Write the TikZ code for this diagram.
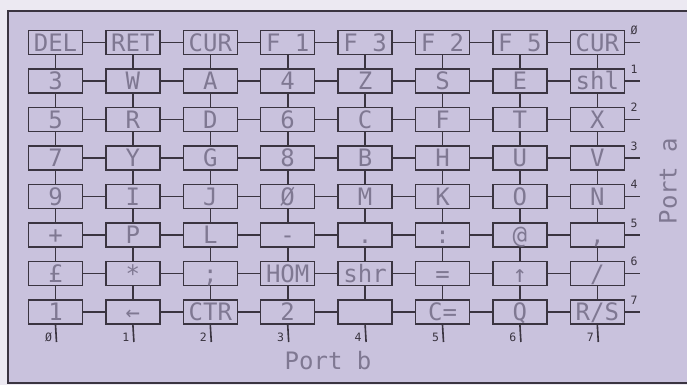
\documentclass[tikz,border=0pt]{standalone}
\usepackage{fontspec}
\newfontfamily\plotfont{DejaVu Sans Mono}
\definecolor{bgout}{HTML}{ECE9F2}
\definecolor{bgin}{HTML}{C9C2DD}
\definecolor{ink}{HTML}{3A3440}
\definecolor{txt}{HTML}{7F7892}
\begin{document}
\begin{tikzpicture}[x=1pt,y=-1pt,
  keybox/.style={draw=ink, line width=1.5pt, fill=bgin, minimum width=54pt, minimum height=24pt,
    inner sep=0pt, text height=17.5pt, text depth=0pt, text=txt,
    font=\plotfont\fontsize{24}{24}\selectfont},
  wire/.style={draw=ink, line width=1.6pt},
  num/.style={text=ink, font=\plotfont\fontsize{11.5}{11.5}\selectfont, inner sep=0pt},
  porttext/.style={text=txt, font=\plotfont\fontsize{24}{24}\selectfont, inner sep=0pt}]
\useasboundingbox (0,0) rectangle (687,385);
\fill[bgout] (0,0) rectangle (687,385);
\fill[bgin] (8,11) rectangle (700,383);
\draw[ink, line width=1.2pt] (700,11) -- (8,11) -- (8,383) -- (700,383);
% keys
\foreach \r [count=\j from 0] in {
  {DEL,RET,CUR,F 1,F 3,F 2,F 5,CUR},
  {3,W,A,4,Z,S,E,shl},
  {5,R,D,6,C,F,T,X},
  {7,Y,G,8,B,H,U,V},
  {9,I,J,Ø,M,K,O,N},
  {+,P,L,-,.,:,@,{,}},
  {£,*,;,HOM,shr,=,↑,/},
  {1,←,CTR,2,{},C=,Q,R/S}}{
  \foreach \lab [count=\i from 0] in \r {
    \node[keybox] (k\i\j) at ({55.5+77.4*\i},{42.5+38.5*\j}) {\lab};
  }
}
% horizontal wires
\foreach \j in {0,...,7}{
  \foreach \i [evaluate=\i as \ii using int(\i+1)] in {0,...,6}{
    \draw[wire] (k\i\j.east) -- (k\ii\j.west);
  }
}
% vertical wires
\foreach \i in {0,...,7}{
  \foreach \j [evaluate=\j as \jj using int(\j+1)] in {0,...,6}{
    \draw[wire] (k\i\j.south) -- (k\i\jj.north);
  }
}
% port a tails
\foreach \lab [count=\j from 0] in {Ø,1,2,3,4,5,6,7}{
  \coordinate (ra\j) at (640,{42.5+38.5*\j});
  \draw[wire] (k7\j.east) -- (ra\j);
  \node[num] (la\j) at (634,{30.5+38.5*\j}) {\lab};
}
% port b tails
\foreach \lab [count=\i from 0] in {Ø,1,2,3,4,5,6,7}{
  \coordinate (rb\i) at ({56.5+77.4*\i},342);
  \draw[wire] (k\i7.south) -- (rb\i);
  \node[num] (lb\i) at ({48.5+77.4*\i},337.5) {\lab};
}
\node[porttext, rotate=90] (pa) at (668,181) {Port a};
\node[porttext] (pb) at (328,361) {Port b};
\end{tikzpicture}
\end{document}
